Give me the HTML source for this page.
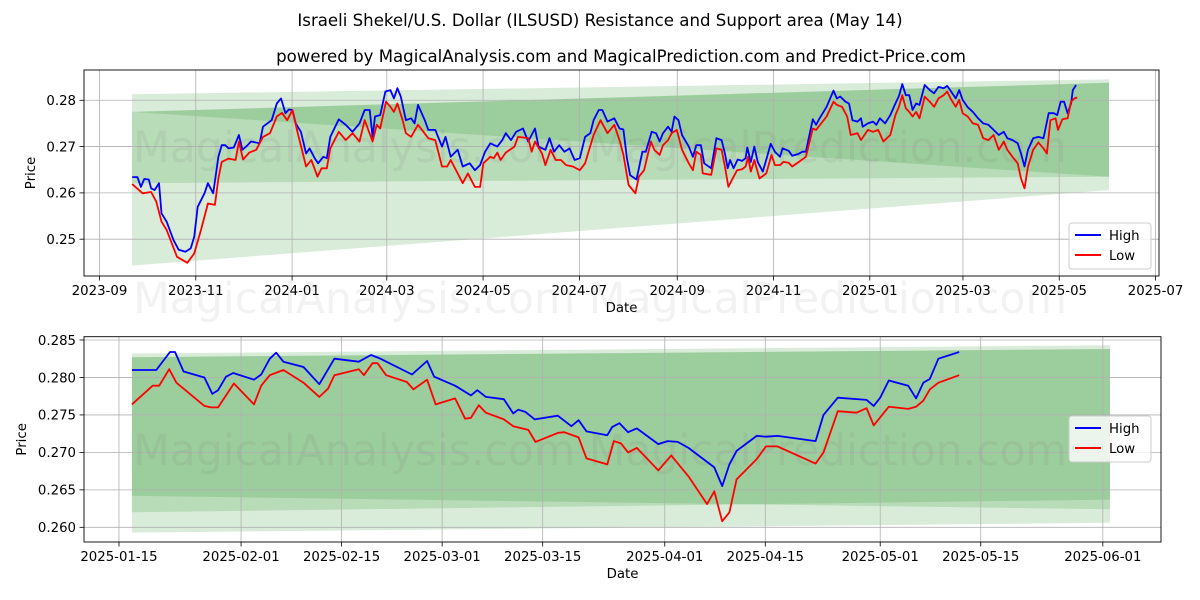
<!DOCTYPE html>
<html><head><meta charset="utf-8"><style>
html,body{margin:0;padding:0;background:#fff;}
svg{display:block;font-family:"DejaVu Sans","Liberation Sans",sans-serif;}
</style></head><body>
<svg id="chart" width="1200" height="600" viewBox="0 0 1200 600" xmlns="http://www.w3.org/2000/svg">
<rect width="1200" height="600" fill="#fff"/>
<text x="600" y="26" text-anchor="middle" font-size="16.6" fill="#000">Israeli Shekel/U.S. Dollar (ILSUSD) Resistance and Support area (May 14)</text>
<text x="621" y="62" text-anchor="middle" font-size="16.6" fill="#000">powered by MagicalAnalysis.com and MagicalPrediction.com and Predict-Price.com</text>
<g id="top"></g>
<g id="bot"></g>
</svg>
<script>
// ---- top panel data (x = days since 2023-09-01) ----
const topTickDays = [0,61,122,182,243,304,366,427,488,547,608,669];
const topTickLabels = ["2023-09","2023-11","2024-01","2024-03","2024-05","2024-07","2024-09","2024-11","2025-01","2025-03","2025-05","2025-07"];
const topYTicks = [0.25,0.26,0.27,0.28];
const topYLabels = ["0.25","0.26","0.27","0.28"];
const topHighDays = [20.7,24.0,26.2,28.4,31.2,32.7,34.9,37.7,39.3,42.5,46.9,50.2,54.5,57.8,60.0,62.2,66.5,68.7,72.0,75.3,77.4,79.6,81.8,85.1,88.3,90.5,93.8,96.0,101.4,103.6,109.1,112.3,115.0,117.8,120.0,122.2,124.3,127.6,130.9,133.1,136.3,138.5,141.8,144.0,146.2,151.6,156.0,160.3,164.7,168.0,171.2,173.0,174.5,177.8,181.1,184.3,186.5,188.7,190.9,194.1,197.4,199.6,201.8,206.1,208.3,212.7,217.0,219.2,222.5,226.9,230.1,234.5,237.8,241.1,244.3,247.6,252.0,255.2,257.4,260.7,264.0,268.3,271.6,275.9,278.1,282.5,285.1,287.9,291.2,294.5,297.8,301.0,304.3,307.6,310.9,313.0,316.3,318.5,321.8,326.1,329.4,331.9,334.1,336.2,340.2,341.7,343.9,346.1,349.8,352.6,354.8,357.0,360.2,362.4,364.2,366.8,369.0,373.3,375.9,378.1,381.0,383.1,387.5,390.8,394.1,396.2,398.0,399.5,401.7,404.3,407.1,409.3,410.4,412.6,414.8,417.0,420.2,423.1,425.2,427.9,431.1,432.7,436.6,438.8,442.7,445.3,447.5,449.7,451.9,454.0,456.2,460.6,465.0,467.1,469.3,472.6,474.8,477.0,480.2,482.4,483.5,486.8,490.0,492.2,494.4,497.7,501.0,504.2,506.4,508.6,510.8,513.0,515.1,517.3,519.5,522.8,526.0,528.7,531.5,534.8,537.0,539.1,542.4,544.6,546.8,550.0,553.3,556.6,559.8,563.1,566.4,569.7,572.9,575.1,578.4,581.7,583.8,586.0,588.2,591.5,594.8,598.0,601.3,604.6,606.7,608.9,611.1,613.3,615.5,616.6,618.7];
const topHighVals = [0.2634,0.2634,0.2613,0.2630,0.2629,0.2610,0.2606,0.2621,0.2556,0.2538,0.2498,0.2477,0.2473,0.2480,0.2505,0.2570,0.2599,0.2621,0.2599,0.2678,0.2703,0.2703,0.2696,0.2698,0.2725,0.2693,0.2703,0.2711,0.2707,0.2743,0.2757,0.2793,0.2804,0.2772,0.2780,0.2779,0.2750,0.2732,0.2685,0.2696,0.2675,0.2664,0.2678,0.2675,0.2721,0.2759,0.2747,0.2732,0.2750,0.2779,0.2779,0.2721,0.2765,0.2768,0.2819,0.2822,0.2804,0.2826,0.2808,0.2757,0.2761,0.2750,0.2790,0.2757,0.2736,0.2736,0.2700,0.2721,0.2678,0.2693,0.2657,0.2664,0.2649,0.2660,0.2689,0.2707,0.2700,0.2714,0.2729,0.2714,0.2732,0.2739,0.2711,0.2739,0.2700,0.2693,0.2718,0.2689,0.2703,0.2689,0.2696,0.2671,0.2675,0.2721,0.2729,0.2757,0.2779,0.2779,0.2754,0.2761,0.2739,0.2737,0.2675,0.2638,0.2629,0.2653,0.2689,0.2689,0.2732,0.2729,0.2711,0.2729,0.2743,0.2732,0.2765,0.2757,0.2725,0.2700,0.2678,0.2703,0.2703,0.2664,0.2653,0.2718,0.2714,0.2685,0.2653,0.2671,0.2653,0.2672,0.2669,0.2675,0.2698,0.2667,0.2700,0.2667,0.2646,0.2680,0.2706,0.2689,0.2678,0.2696,0.2691,0.2680,0.2684,0.2689,0.2689,0.2725,0.2759,0.2747,0.2761,0.2786,0.2821,0.2804,0.2808,0.2797,0.2793,0.2757,0.2754,0.2761,0.2743,0.2750,0.2754,0.2747,0.2761,0.2750,0.2768,0.2793,0.2809,0.2835,0.2811,0.2811,0.2779,0.2793,0.2790,0.2833,0.2822,0.2815,0.2829,0.2826,0.2831,0.2821,0.2804,0.2822,0.2801,0.2785,0.2775,0.2761,0.2750,0.2747,0.2736,0.2725,0.2732,0.2718,0.2714,0.2707,0.2685,0.2657,0.2693,0.2718,0.2721,0.2718,0.2772,0.2772,0.2768,0.2797,0.2797,0.2772,0.2793,0.2822,0.2833];
const topLowDays = [20.7,27.3,32.7,36.0,39.3,42.5,49.1,55.6,60.0,64.3,68.7,73.1,75.3,77.4,81.8,86.2,88.3,91.0,94.9,99.3,103.6,108.0,112.3,115.6,118.9,122.2,125.4,130.9,134.2,138.1,140.7,144.0,146.2,151.6,156.0,160.3,164.7,168.0,173.0,175.6,177.8,181.5,184.3,186.5,188.7,192.0,194.1,197.4,201.8,208.3,212.7,217.0,220.3,222.5,226.9,230.1,233.4,237.8,241.1,243.2,247.6,249.8,252.0,254.1,257.4,262.9,265.1,271.6,273.8,275.9,280.3,282.5,285.8,289.0,292.3,295.6,299.9,304.3,307.6,313.0,317.4,321.8,326.1,329.7,331.9,335.2,339.5,341.7,345.0,349.3,351.5,354.8,357.0,360.2,362.4,365.7,369.0,373.3,375.9,378.1,381.0,382.1,387.5,390.8,394.1,396.2,398.4,400.6,403.9,407.1,409.3,410.9,412.6,414.8,418.1,422.4,425.7,427.9,431.1,433.3,436.6,438.8,443.1,447.5,451.9,454.0,460.6,465.0,467.1,470.4,473.7,475.9,480.2,482.4,486.8,490.0,493.3,496.6,501.0,504.2,506.4,508.6,510.8,513.0,515.1,517.3,519.5,522.8,526.0,528.7,531.5,534.8,537.0,539.1,542.4,544.6,546.8,550.0,553.3,556.6,559.8,563.1,566.4,569.7,572.9,575.1,578.4,581.7,583.8,586.0,588.2,591.5,594.8,598.0,600.2,602.4,605.7,607.2,610.0,613.3,615.5,617.7,619.4];
const topLowVals = [0.2619,0.2599,0.2602,0.2581,0.2538,0.2520,0.2462,0.2449,0.2469,0.2520,0.2577,0.2574,0.2631,0.2667,0.2674,0.2671,0.2711,0.2672,0.2687,0.2693,0.2721,0.2729,0.2765,0.2773,0.2757,0.2779,0.2732,0.2657,0.2671,0.2635,0.2653,0.2653,0.2696,0.2732,0.2714,0.2729,0.2711,0.2757,0.2711,0.2747,0.2739,0.2797,0.2786,0.2775,0.2793,0.2757,0.2729,0.2721,0.2747,0.2718,0.2714,0.2657,0.2657,0.2671,0.2642,0.2621,0.2642,0.2613,0.2613,0.2664,0.2678,0.2675,0.2687,0.2671,0.2687,0.2700,0.2721,0.2718,0.2689,0.2711,0.2685,0.2660,0.2693,0.2671,0.2671,0.2660,0.2657,0.2649,0.2664,0.2725,0.2757,0.2729,0.2747,0.2711,0.2682,0.2617,0.2599,0.2635,0.2649,0.2711,0.2693,0.2682,0.2703,0.2714,0.2729,0.2736,0.2693,0.2664,0.2649,0.2689,0.2682,0.2642,0.2639,0.2696,0.2693,0.2657,0.2613,0.2628,0.2649,0.2651,0.2657,0.2678,0.2646,0.2671,0.2631,0.2642,0.2682,0.2660,0.2660,0.2667,0.2665,0.2657,0.2667,0.2678,0.2739,0.2736,0.2765,0.2797,0.2790,0.2786,0.2765,0.2725,0.2729,0.2714,0.2736,0.2732,0.2736,0.2711,0.2725,0.2768,0.2786,0.2811,0.2783,0.2775,0.2765,0.2775,0.2761,0.2808,0.2797,0.2786,0.2804,0.2811,0.2819,0.2804,0.2786,0.2801,0.2772,0.2765,0.2750,0.2747,0.2718,0.2714,0.2725,0.2693,0.2711,0.2693,0.2678,0.2664,0.2631,0.2610,0.2657,0.2693,0.2709,0.2696,0.2685,0.2757,0.2761,0.2736,0.2759,0.2761,0.2797,0.2804,0.2806];
const topBandDays = [20.6, 639.5];
const topBandWideTop = [0.2813, 0.2845];
const topBandWideBot = [0.2443, 0.2606];
const topBandFlatTop = [0.2775, 0.2838];
const topBandFlatBot = [0.2621, 0.2635];
const topBandWedgeTop = [0.2775, 0.2838];
const topBandWedgeBot = [0.2775, 0.2635];

// ---- bottom panel data (x = days since 2025-01-15) ----
const botTickDays = [0,17,31,45,59,76,90,106,120,137];
const botTickLabels = ["2025-01-15","2025-02-01","2025-02-15","2025-03-01","2025-03-15","2025-04-01","2025-04-15","2025-05-01","2025-05-15","2025-06-01"];
const botYTicks = [0.260,0.265,0.270,0.275,0.280,0.285];
const botYLabels = ["0.260","0.265","0.270","0.275","0.280","0.285"];
const botHighDays = [1.8,5.2,7.1,7.8,9.0,11.9,13.0,13.8,14.9,15.9,18.8,19.8,21.0,21.9,22.9,25.7,27.9,30.0,33.4,35.1,36.2,40.8,42.9,43.9,46.8,49.0,49.9,51.1,53.6,54.9,55.6,56.6,57.9,61.1,63.0,64.0,65.1,68.0,68.7,69.7,70.9,72.1,75.1,76.4,77.8,79.3,82.9,84.0,85.0,86.0,88.8,90.1,91.7,97.0,98.1,100.1,104.1,105.1,106.0,107.2,109.9,111.0,112.0,112.9,114.1,117.0];
const botHighVals = [0.2810,0.2810,0.2834,0.2834,0.2808,0.2800,0.2778,0.2783,0.2801,0.2806,0.2797,0.2804,0.2825,0.2833,0.2821,0.2814,0.2791,0.2825,0.2821,0.2830,0.2826,0.2804,0.2822,0.2801,0.2789,0.2776,0.2783,0.2774,0.2771,0.2752,0.2757,0.2754,0.2744,0.2749,0.2735,0.2743,0.2728,0.2723,0.2734,0.2739,0.2727,0.2732,0.2711,0.2715,0.2714,0.2706,0.2680,0.2655,0.2684,0.2702,0.2722,0.2721,0.2722,0.2715,0.2750,0.2773,0.2770,0.2762,0.2773,0.2796,0.2789,0.2772,0.2793,0.2798,0.2825,0.2834];
const botLowDays = [1.8,4.7,5.6,7.0,8.0,11.9,12.8,13.8,16.0,18.8,19.8,21.0,22.9,25.7,27.9,29.1,30.0,33.4,34.1,35.3,36.0,37.2,40.1,41.0,42.9,44.1,46.8,48.2,49.0,50.1,51.1,53.6,54.9,57.0,58.0,61.1,62.0,64.0,65.1,68.0,68.9,69.9,70.9,72.1,75.1,76.9,79.3,81.9,82.9,84.0,85.0,86.0,88.8,90.1,91.7,97.0,98.1,100.1,102.7,104.1,105.1,107.2,109.9,111.0,112.0,112.9,114.1,117.0];
const botLowVals = [0.2764,0.2789,0.2789,0.2811,0.2793,0.2762,0.2760,0.2760,0.2792,0.2764,0.2789,0.2803,0.2810,0.2793,0.2774,0.2785,0.2803,0.2811,0.2803,0.2819,0.2819,0.2803,0.2794,0.2784,0.2797,0.2764,0.2772,0.2745,0.2746,0.2763,0.2753,0.2744,0.2735,0.2730,0.2714,0.2726,0.2727,0.2720,0.2692,0.2684,0.2715,0.2712,0.2700,0.2706,0.2676,0.2696,0.2668,0.2631,0.2648,0.2608,0.2620,0.2664,0.2691,0.2708,0.2708,0.2685,0.2700,0.2755,0.2753,0.2759,0.2736,0.2761,0.2758,0.2761,0.2769,0.2784,0.2793,0.2803];
const botBandDays = [1.8, 138.0];
const botBandWideTop = [0.2832, 0.2843];
const botBandWideBot = [0.2593, 0.2606];
const botBandFlatTop = [0.2827, 0.2838];
const botBandFlatBot = [0.2620, 0.2637];
const botBandWedgeTop = [0.2827, 0.2838];
const botBandWedgeBot = [0.2642, 0.2624];

const NS = "http://www.w3.org/2000/svg";
function mk(parent, tag, attrs, text){
  const e = document.createElementNS(NS, tag);
  for (const k in attrs) e.setAttribute(k, attrs[k]);
  if (text !== undefined) e.textContent = text;
  parent.appendChild(e);
  return e;
}

function drawPanel(g, cfg){
  const L=cfg.left, R=cfg.right, T=cfg.top, B=cfg.bottom;
  const xs = d => L + (d - cfg.xmin) / (cfg.xmax - cfg.xmin) * (R - L);
  const ys = v => B - (v - cfg.ymin) / (cfg.ymax - cfg.ymin) * (B - T);
  const clipId = cfg.id + "-clip";
  const defs = mk(g, "defs", {});
  const cp = mk(defs, "clipPath", {id: clipId});
  mk(cp, "rect", {x:L, y:T, width:R-L, height:B-T});
  const bands = [
    [cfg.bandWideTop, cfg.bandWideBot, "band-wide"],
    [cfg.bandFlatTop, cfg.bandFlatBot, "band-flat"],
    [cfg.bandWedgeTop, cfg.bandWedgeBot, "band-wedge"]
  ];
  bands.forEach(b => {
    const d0 = cfg.bandDays[0], d1 = cfg.bandDays[1];
    const pts = [[xs(d0), ys(b[0][0])],[xs(d1), ys(b[0][1])],[xs(d1), ys(b[1][1])],[xs(d0), ys(b[1][0])]];
    const p = mk(g, "polygon", {points: pts.map(p=>p[0].toFixed(1)+","+p[1].toFixed(1)).join(" "), fill:"#008000", "fill-opacity":"0.15", "clip-path":"url(#"+clipId+")"});
    
    
  });
  cfg.xTicks.forEach((d,i) => {
    const x = xs(d);
    const gl = mk(g, "line", {x1:x, x2:x, y1:T, y2:B, stroke:"#b0b0b0", "stroke-width":"0.8"});
    
    
    mk(g, "line", {x1:x, x2:x, y1:B, y2:B+4.5, stroke:"#000", "stroke-width":"0.8"});
    const t = mk(g, "text", {x:x, y:B+19, "text-anchor":"middle", "font-size":"13.3", fill:"#000"}, cfg.xLabels[i]);
    
    
  });
  cfg.yTicks.forEach((v,i) => {
    const y = ys(v);
    const gl = mk(g, "line", {x1:L, x2:R, y1:y, y2:y, stroke:"#b0b0b0", "stroke-width":"0.8"});
    
    
    mk(g, "line", {x1:L-4.5, x2:L, y1:y, y2:y, stroke:"#000", "stroke-width":"0.8"});
    const t = mk(g, "text", {x:L-8, y:y+4.8, "text-anchor":"end", "font-size":"13.3", fill:"#000"}, cfg.yLabels[i]);
    
    
  });
  const wm = mk(g, "text", {x:600, y:cfg.wmY, "text-anchor":"middle", "font-size":"42.5", fill:"#808080", "fill-opacity":"0.13"}, "MagicalAnalysis.com   MagicalPrediction.com");
  
  
  function line(days, vals, color, name){
    const pts = days.map((d,i)=> xs(d).toFixed(1)+","+ys(vals[i]).toFixed(1)).join(" ");
    const pl = mk(g, "polyline", {points:pts, fill:"none", stroke:color, "stroke-width":"1.8", "stroke-linejoin":"round", "clip-path":"url(#"+clipId+")"});
    
    
  }
  line(cfg.highDays, cfg.highVals, "#0000ff", "high-line");
  line(cfg.lowDays, cfg.lowVals, "#ff0000", "low-line");
  const fr = mk(g, "rect", {x:L, y:T, width:R-L, height:B-T, fill:"none", stroke:"#000", "stroke-width":"0.9"});
  
  
  const xt = mk(g, "text", {x:(L+R)/2, y:B+36, "text-anchor":"middle", "font-size":"13.3", fill:"#000"}, "Date");
  
  
  const yc = (T+B)/2;
  const yt = mk(g, "text", {x:cfg.yTitleX, y:yc, "text-anchor":"middle", "font-size":"13.3", fill:"#000", transform:"rotate(-90 "+cfg.yTitleX+" "+yc+")"}, "Price");
  
  
  const lg = mk(g, "g", {});
  
  
  const lx = cfg.legX, ly = cfg.legY;
  mk(lg, "rect", {x:lx, y:ly, width:82, height:46, rx:3, fill:"#fff", "fill-opacity":"0.8", stroke:"#cccccc", "stroke-width":"1"});
  const e1 = mk(lg, "g", {});
  
  
  mk(e1, "line", {x1:lx+6, x2:lx+32, y1:ly+12, y2:ly+12, stroke:"#0000ff", "stroke-width":"2"});
  mk(e1, "text", {x:lx+40, y:ly+17, "font-size":"13.3", fill:"#000"}, "High");
  const e2 = mk(lg, "g", {});
  
  
  mk(e2, "line", {x1:lx+6, x2:lx+32, y1:ly+32, y2:ly+32, stroke:"#ff0000", "stroke-width":"2"});
  mk(e2, "text", {x:lx+40, y:ly+37, "font-size":"13.3", fill:"#000"}, "Low");
}

drawPanel(document.getElementById("top"), {
  id:"top", left:84, right:1159, top:70, bottom:276,
  xmin:-9.82, xmax:671.2, ymin:0.24205, ymax:0.28654,
  xTicks:topTickDays, xLabels:topTickLabels, yTicks:topYTicks, yLabels:topYLabels,
  highDays:topHighDays, highVals:topHighVals, lowDays:topLowDays, lowVals:topLowVals,
  bandDays:topBandDays, bandWideTop:topBandWideTop, bandWideBot:topBandWideBot,
  bandFlatTop:topBandFlatTop, bandFlatBot:topBandFlatBot, bandWedgeTop:topBandWedgeTop, bandWedgeBot:topBandWedgeBot,
  wmY:162, yTitleX:35, legX:1069, legY:223
});
drawPanel(document.getElementById("bot"), {
  id:"bot", left:84, right:1161, top:336.7, bottom:542,
  xmin:-4.87, xmax:145.1, ymin:0.25804, ymax:0.28544,
  xTicks:botTickDays, xLabels:botTickLabels, yTicks:botYTicks, yLabels:botYLabels,
  highDays:botHighDays, highVals:botHighVals, lowDays:botLowDays, lowVals:botLowVals,
  bandDays:botBandDays, bandWideTop:botBandWideTop, bandWideBot:botBandWideBot,
  bandFlatTop:botBandFlatTop, bandFlatBot:botBandFlatBot, bandWedgeTop:botBandWedgeTop, bandWedgeBot:botBandWedgeBot,
  wmY:465, yTitleX:26, legX:1069, legY:416
});
const mid = mk(document.getElementById("chart"), "text", {x:600, y:313, "text-anchor":"middle", "font-size":"42.5", fill:"#808080", "fill-opacity":"0.1"}, "MagicalAnalysis.com   MagicalPrediction.com");


</script>
</body></html>
